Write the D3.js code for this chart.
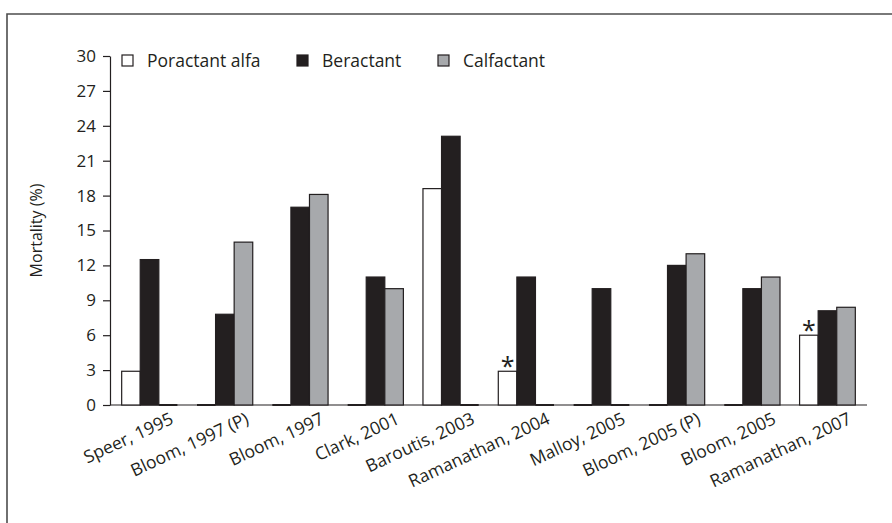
<html>
<head>
<meta charset="utf-8">
<title>Mortality by surfactant</title>
<style>
  body { margin: 0; background: #fff; }
  text { font-family: "Open Sans", "Noto Sans", sans-serif; fill: #231f20; }
</style>
<script src="https://d3js.org/d3.v7.min.js"></script>
</head>
<body>
<script>
var studies = ["Speer, 1995", "Bloom, 1997 (P)", "Bloom, 1997", "Clark, 2001", "Baroutis, 2003",
               "Ramanathan, 2004", "Malloy, 2005", "Bloom, 2005 (P)", "Bloom, 2005", "Ramanathan, 2007"];
var series = ["Poractant alfa", "Beractant", "Calfactant"];
var poractant = [2.9, 0, 0, 0, 18.6, 2.9, 0, 0, 0, 6.0];
var beractant = [12.5, 7.8, 17.0, 11.0, 23.1, 11.0, 10.0, 12.0, 10.0, 8.1];
var calfactant = [0, 14.0, 18.1, 10.0, 0, 0, 0, 13.0, 11.0, 8.4];
var starred = [false, false, false, false, false, true, false, false, false, true];
var yTicks = [0, 3, 6, 9, 12, 15, 18, 21, 24, 27, 30];

var width = 892, height = 523;
var fills = ["#ffffff", "#231f20", "#a7a9ac"];

var svg = d3.select("body").append("svg")
    .attr("width", width)
    .attr("height", height);

// frame
svg.append("path")
    .attr("d", "M7," + height + "V14H" + width)
    .attr("fill", "none")
    .attr("stroke", "#4d4d4d")
    .attr("stroke-width", 1.6);

var x0 = d3.scaleBand().domain(studies).range([110, 867])
    .paddingInner(0.26).paddingOuter(0.155);
var x1 = d3.scaleBand().domain(series).range([0, x0.bandwidth()]);
var y = d3.scaleLinear().domain([0, 30]).range([405, 56]);

var rows = studies.map(function(s, i) {
  return {study: s, values: [poractant[i], beractant[i], calfactant[i]], star: starred[i]};
});

// baseline
svg.append("line")
    .attr("x1", 110).attr("x2", 867)
    .attr("y1", y(0)).attr("y2", y(0))
    .attr("stroke", "#231f20").attr("stroke-width", 1.2);

var groups = svg.selectAll(".grp").data(rows).enter().append("g")
    .attr("class", "grp")
    .attr("transform", d => "translate(" + x0(d.study) + ",0)");

var bars = groups.selectAll(".bar")
    .data(d => d.values.map((v, k) => ({key: series[k], k: k, v: v})))
    .enter().append("g").attr("class", "bar");

bars.filter(d => d.v > 0).append("rect")
    .attr("x", d => x1(d.key))
    .attr("width", x1.bandwidth())
    .attr("y", d => y(d.v))
    .attr("height", d => y(0) - y(d.v))
    .attr("fill", d => fills[d.k])
    .attr("stroke", "#231f20")
    .attr("stroke-width", 1.2);

// zero-height bars show as a dark line on the baseline
bars.filter(d => d.v === 0).append("line")
    .attr("x1", d => x1(d.key))
    .attr("x2", d => x1(d.key) + x1.bandwidth())
    .attr("y1", y(0)).attr("y2", y(0))
    .attr("stroke", "#231f20")
    .attr("stroke-width", 2);

groups.filter(d => d.star).append("text")
    .attr("x", x1("Poractant alfa") + x1.bandwidth() / 2)
    .attr("y", d => y(d.values[0]) + 4)
    .attr("text-anchor", "middle")
    .style("font-size", "25px")
    .text("*");

// y axis
var yAxis = svg.append("g")
    .attr("transform", "translate(110,0)")
    .call(d3.axisLeft(y).tickValues(yTicks).tickSize(7).tickSizeOuter(0).tickPadding(7));
yAxis.selectAll("path, line").attr("stroke", "#231f20").attr("stroke-width", 1.2);
yAxis.selectAll("text").style("font-size", "17px").style("font-family", "'Open Sans', sans-serif").attr("fill", "#231f20");

svg.append("text")
    .attr("transform", "translate(42," + (y(15)) + ") rotate(-90)")
    .attr("text-anchor", "middle")
    .style("font-size", "16px")
    .text("Mortality (%)");

// x labels
svg.selectAll(".xlab").data(studies).enter().append("text")
    .attr("class", "xlab")
    .attr("text-anchor", "end")
    .attr("transform", d => "translate(" + (x0(d) + x0.bandwidth() / 2 + 25) + ",423) rotate(-25)")
    .style("font-size", "17.5px")
    .text(d => d);

// legend
var legX = [122, 297, 438];
var legend = svg.selectAll(".leg").data(series).enter().append("g")
    .attr("class", "leg")
    .attr("transform", (d, i) => "translate(" + legX[i] + ",55)");
legend.append("rect")
    .attr("width", 11).attr("height", 11)
    .attr("fill", (d, i) => fills[i])
    .attr("stroke", "#231f20").attr("stroke-width", 1.2);
legend.append("text")
    .attr("x", 25).attr("y", 11.5)
    .style("font-size", "17.5px")
    .text(d => d);
</script>
</body>
</html>
